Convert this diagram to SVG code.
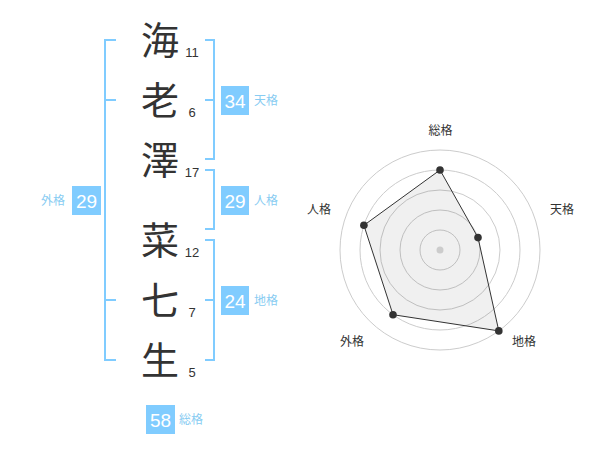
<svg xmlns="http://www.w3.org/2000/svg" width="600" height="470" viewBox="0 0 600 470">
<style>
.ch{font-family:"Noto Sans CJK JP","Noto Sans CJK SC",sans-serif;font-size:38px;fill:#333;text-anchor:middle}
.num{font-family:"Liberation Sans",Arial,sans-serif;font-size:13px;fill:#333;text-anchor:middle}
.br{fill:none;stroke:#80ccff;stroke-width:2}
.badge{fill:#80ccff}
.bt{font-family:"Liberation Sans",Arial,sans-serif;font-size:19px;fill:#fff;text-anchor:middle}
.lb{font-family:"Noto Sans CJK JP","Noto Sans CJK SC",sans-serif;font-size:12px;fill:#88ccf2}
.rl{font-family:"Noto Sans CJK JP","Noto Sans CJK SC",sans-serif;font-size:12px;fill:#333;text-anchor:middle}
.ring{fill:none;stroke:#cccccc;stroke-width:1}
.pt{fill:#333}
</style>
<rect width="600" height="470" fill="#fff"/>
<g id="chars">
<g id="c1"><text class="ch" x="160" y="54">海</text><text class="num" x="192" y="57">11</text></g>
<g id="c2"><text class="ch" x="160" y="114">老</text><text class="num" x="192" y="117">6</text></g>
<g id="c3"><text class="ch" x="160" y="174">澤</text><text class="num" x="192" y="177">17</text></g>
<g id="c4"><text class="ch" x="160" y="254">菜</text><text class="num" x="192" y="257">12</text></g>
<g id="c5"><text class="ch" x="160" y="314">七</text><text class="num" x="192" y="317">7</text></g>
<g id="c6"><text class="ch" x="160" y="374">生</text><text class="num" x="192" y="377">5</text></g>
</g>
<g id="connectors">
<path class="br" d="M116 40H105V360H116M105 100H116M105 300H116"/>
<path class="br" d="M205 40H214V159H205M205 100H214"/>
<path class="br" d="M205 170H214V229H205"/>
<path class="br" d="M205 240H214V360H205M205 300H214"/>
</g>
<g id="tenkaku"><rect class="badge" x="221" y="86" width="28" height="29"/><text class="bt" x="235" y="107.5">34</text><text class="lb" x="254" y="104.5">天格</text></g>
<g id="jinkaku"><rect class="badge" x="221" y="186" width="28" height="29"/><text class="bt" x="235" y="207.5">29</text><text class="lb" x="254" y="204.5">人格</text></g>
<g id="chikaku"><rect class="badge" x="221" y="286" width="28" height="29"/><text class="bt" x="235" y="307.5">24</text><text class="lb" x="254" y="304.5">地格</text></g>
<g id="gaikaku"><rect class="badge" x="72" y="186" width="29" height="29"/><text class="bt" x="86.5" y="207.5">29</text><text class="lb" x="41" y="204.5">外格</text></g>
<g id="soukaku"><rect class="badge" x="146" y="405" width="29" height="29"/><text class="bt" x="160.5" y="426.5">58</text><text class="lb" x="179" y="423.5">総格</text></g>
<g id="radar">
<circle class="ring" cx="440" cy="250" r="20"/>
<circle class="ring" cx="440" cy="250" r="40"/>
<circle class="ring" cx="440" cy="250" r="60"/>
<circle class="ring" cx="440" cy="250" r="80"/>
<circle class="ring" cx="440" cy="250" r="100"/>
<polygon points="440,170 478,237.6 498.8,330.9 393,314.7 363.9,225.3" fill="#000" fill-opacity="0.06" stroke="#333" stroke-width="1"/>
<circle cx="440" cy="250" r="3.5" fill="#cccccc"/>
<circle class="pt" cx="440" cy="170" r="3.8"/>
<circle class="pt" cx="478" cy="237.6" r="3.8"/>
<circle class="pt" cx="498.8" cy="330.9" r="3.8"/>
<circle class="pt" cx="393" cy="314.7" r="3.8"/>
<circle class="pt" cx="363.9" cy="225.3" r="3.8"/>
<text class="rl" x="440.5" y="135">総格</text>
<text class="rl" x="562" y="213.5">天格</text>
<text class="rl" x="524" y="346">地格</text>
<text class="rl" x="352" y="346">外格</text>
<text class="rl" x="319" y="213.5">人格</text>
</g>
</svg>
